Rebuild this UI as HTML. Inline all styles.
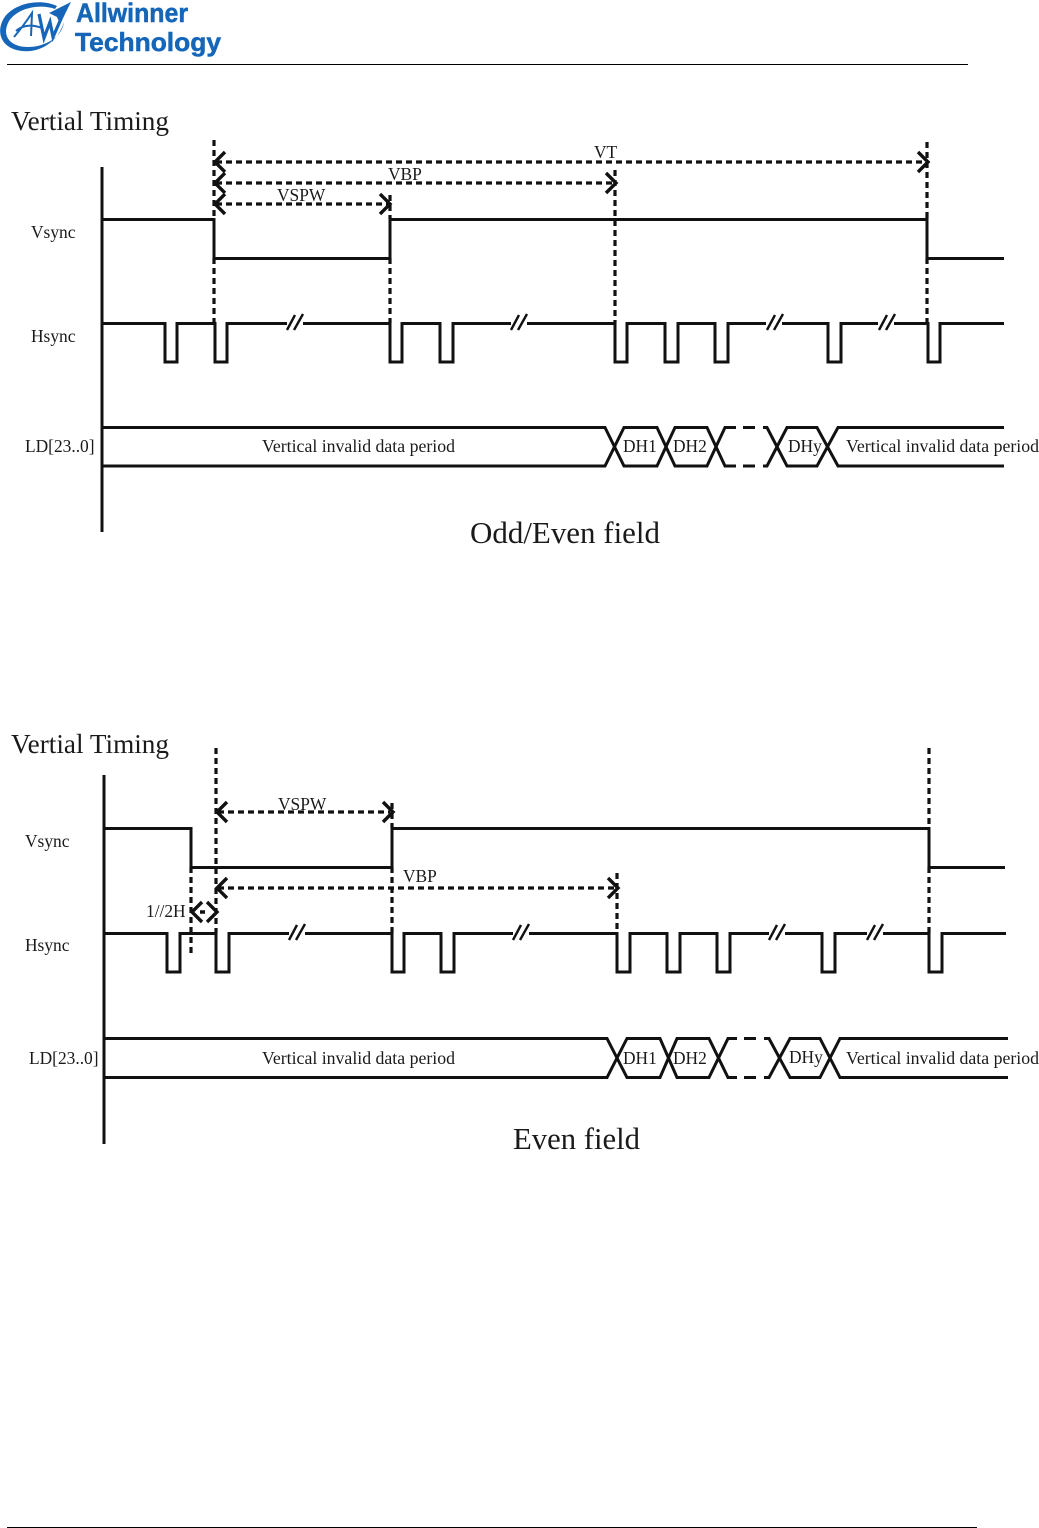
<!DOCTYPE html>
<html>
<head>
<meta charset="utf-8">
<style>
html,body{margin:0;padding:0;background:#fff;width:1039px;height:1528px;overflow:hidden}
svg{display:block}
text{font-family:"Liberation Serif",serif;fill:#1a1a1a}
.s{fill:none;stroke:#111;stroke-width:3;stroke-linejoin:miter;stroke-linecap:butt}
.d{fill:none;stroke:#111;stroke-width:3.2;stroke-dasharray:6 4}
.a{fill:none;stroke:#111;stroke-width:3.4}
.b{fill:none;stroke:#111;stroke-width:2.4}
.t{font-size:17.4px}
.h{font-size:27px}
.c{font-size:31px}
.l{font-family:"Liberation Sans",sans-serif;font-weight:bold;fill:#1565b8;stroke:#1565b8;stroke-width:.5}
</style>
</head>
<body>
<svg width="1039" height="1528" viewBox="0 0 1039 1528" xmlns="http://www.w3.org/2000/svg">
<!-- logo -->
<g>
<path d="M57 6 C40 -2 14 3 4 18 C-5 33 2 49 22 51 C40 53 58 42 64 22 C62 38 44 47 28 47 C10 47 2 36 8 23 C15 9 38 3 55 9 Z" fill="#1565b8"/>
<path d="M49 13 L71 2 L60 24 L57 17 Z" fill="#1565b8"/>
<path d="M14 37 C20 30 26 22 32 13 L31 36 M16 31 C24 24 34 25 42 28" fill="none" stroke="#1565b8" stroke-width="2"/>
<path d="M39 14 L44 38 L50 22 L53 37 L64 12" fill="none" stroke="#1565b8" stroke-width="3.2"/>
<text x="76" y="22" textLength="112" lengthAdjust="spacingAndGlyphs" class="l" style="font-size:27px">Allwinner</text>
<text x="75" y="51" textLength="146" lengthAdjust="spacingAndGlyphs" class="l" style="font-size:26px">Technology</text>
</g>
<path d="M7 64.500H968" stroke="#000" stroke-width="1"/>
<path d="M7 1527.500H977" stroke="#000" stroke-width="1"/>

<!-- diagram 1 -->
<text x="11" y="130" class="h" textLength="158" lengthAdjust="spacingAndGlyphs">Vertial Timing</text>
<path class="s" d="M102 167V532"/>
<path class="d" d="M214 140V219M214 258V323M390 195V219M390 258V323M615 170V323M927 142V219M927 258V323"/>
<path class="d" d="M216 162H925M216 183H613M216 204H388"/>
<path class="a" d="M225 152L215 162L225 172M225 173L215 183L225 193M225 194L215 204L225 214M380 194L390 204L380 214M606 173L616 183L606 193M918 152L928 162L918 172"/>
<path class="s" d="M102 219.500H214V258.500H390V219.500H927V258.500H1004"/>
<path class="s" d="M102 323.500H165V362H177V323.500H215V362H227V323.500H287M303 323.500H390V362H402V323.500H440V362H453V323.500H511M527 323.500H615V362H627V323.500H665V362H678V323.500H715V362H728V323.500H766M782 323.500H828V362H841V323.500H878M894 323.500H928V362H940V323.500H1004"/>
<path class="b" d="M287 330L295 315M294 330L303 314M511 330L519 315M518 330L527 314M767 330L775 315M774 330L783 314M879 330L887 315M886 330L895 314"/>
<path class="s" d="M102 427.500H605L624 466H657L675 427.500H707L725 466H736M743 466H755M763 466H767L787 427.500H817L838 466H1004"/>
<path class="s" d="M102 466H605L624 427.500H657L675 466H707L725 427.500H736M743 427.500H755M763 427.500H767L787 466H817L838 427.500H1004"/>
<text x="31" y="238" class="t">Vsync</text>
<text x="31" y="342" class="t">Hsync</text>
<text x="25" y="452" class="t">LD[23..0]</text>
<text x="277" y="201" class="t">VSPW</text>
<text x="388" y="180" class="t">VBP</text>
<text x="594" y="158" class="t">VT</text>
<text x="262" y="452" class="t" textLength="193" lengthAdjust="spacingAndGlyphs">Vertical invalid data period</text>
<text x="623" y="452" class="t">DH1</text>
<text x="673" y="452" class="t">DH2</text>
<text x="788" y="452" class="t">DHy</text>
<text x="846" y="452" class="t" textLength="193" lengthAdjust="spacingAndGlyphs">Vertical invalid data period</text>
<text x="470" y="543" class="c" textLength="190" lengthAdjust="spacingAndGlyphs">Odd/Even field</text>

<!-- diagram 2 -->
<text x="11" y="753" class="h" textLength="158" lengthAdjust="spacingAndGlyphs">Vertial Timing</text>
<path class="s" d="M104 775V1144"/>
<path class="d" d="M216 748V933M929 748V828M929 867V933M392 803V828M392 867V933M191 867V953M617 873V933"/>
<path class="d" d="M218 812H390M218 888H615"/>
<path class="a" d="M227 802L217 812L227 822M383 802L393 812L383 822M227 878L217 888L227 898M608 878L618 888L608 898M202 902L192 912L202 922M207 902L217 912L207 922M200 912H205"/>
<path class="s" d="M104 828.500H191V867.500H392V828.500H929V867.500H1005"/>
<path class="s" d="M104 933.500H167V972H180V933.500H216V972H229V933.500H289M305 933.500H392V972H404V933.500H441V972H454V933.500H513M529 933.500H617V972H630V933.500H667V972H680V933.500H717V972H730V933.500H769M785 933.500H822V972H835V933.500H867M883 933.500H929V972H942V933.500H1006"/>
<path class="b" d="M289 940L297 925M296 940L305 924M513 940L521 925M520 940L529 924M769 940L777 925M776 940L785 924M867 940L875 925M874 940L883 924"/>
<path class="s" d="M104 1038.500H607L627 1077.500H660L677 1038.500H709L728 1077.500H737M744 1077.500H756M764 1077.500H769L790 1038.500H820L840 1077.500H1008"/>
<path class="s" d="M104 1077.500H607L627 1038.500H660L677 1077.500H709L728 1038.500H737M744 1038.500H756M764 1038.500H769L790 1077.500H820L840 1038.500H1008"/>
<text x="25" y="847" class="t">Vsync</text>
<text x="25" y="951" class="t">Hsync</text>
<text x="29" y="1064" class="t">LD[23..0]</text>
<text x="278" y="810" class="t">VSPW</text>
<text x="403" y="882" class="t">VBP</text>
<text x="146" y="917" class="t">1//2H</text>
<text x="262" y="1064" class="t" textLength="193" lengthAdjust="spacingAndGlyphs">Vertical invalid data period</text>
<text x="623" y="1064" class="t">DH1</text>
<text x="673" y="1064" class="t">DH2</text>
<text x="789" y="1063" class="t">DHy</text>
<text x="846" y="1064" class="t" textLength="193" lengthAdjust="spacingAndGlyphs">Vertical invalid data period</text>
<text x="513" y="1149" class="c" textLength="127" lengthAdjust="spacingAndGlyphs">Even field</text>
</svg>
</body>
</html>
